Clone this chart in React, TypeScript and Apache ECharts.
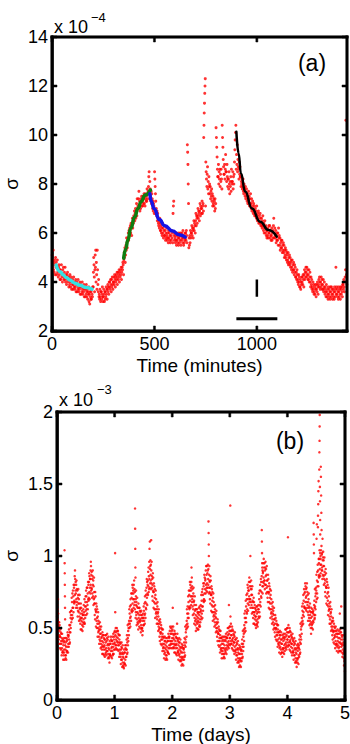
import React, { useEffect, useRef } from "react";
import * as echarts from "echarts";

const FONT = '"Liberation Sans", Arial, Helvetica, sans-serif';

// ---------- Panel (a): one day, time in minutes ----------
// σ in units of 10⁻⁴, grouped in 10-minute windows (samples in time order inside each window)
const MINUTE_WINDOW = 10;
const sigmaMinutes: number[][] = [
  [5.1, 4.6, 4.9, 5.3, 4.5, 4.8], [4.4, 4.9, 4.7, 4.3, 5.0, 4.6], [4.8, 4.3, 4.6, 4.9, 4.4, 4.5], [4.2, 4.6, 4.7, 4.3, 4.5, 4.1],
  [4.5, 4.1, 4.4, 4.7, 4.2, 4.3], [4.0, 4.5, 4.3, 4.6, 4.1, 4.2], [4.4, 4.1, 4.6, 4.0, 4.3, 4.2], [3.9, 4.3, 4.1, 4.4, 4.0, 4.2],
  [4.2, 3.8, 4.1, 3.9, 4.3, 4.0], [3.8, 4.1, 4.2, 3.7, 4.0, 3.9], [4.1, 3.7, 3.9, 4.2, 3.8, 4.0], [3.7, 4.0, 3.8, 4.1, 3.6, 3.9],
  [4.0, 3.6, 3.9, 3.7, 4.1, 3.8], [3.6, 3.9, 3.7, 4.0, 3.5, 3.8], [3.9, 3.5, 3.8, 3.6, 4.0, 3.7], [3.5, 3.8, 3.6, 3.9, 3.4, 3.7],
  [3.8, 3.4, 3.7, 3.5, 3.9, 3.6], [3.4, 3.7, 3.3, 3.6, 3.5, 3.8], [3.2, 3.5, 3.1, 3.6, 3.4, 3.3], [3.6, 3.3, 3.7, 3.5, 3.4, 3.8],
  [3.8, 4.4, 5.0, 4.7, 4.2, 3.6, 4.5], [5.1, 4.6, 5.3, 4.0, 4.8, 4.3, 3.7], [5.3, 4.5, 3.9, 3.6, 4.1, 3.4], [3.5, 3.3, 3.7, 3.4, 3.2, 3.6],
  [3.6, 3.3, 3.5, 3.8, 3.4, 3.2], [3.4, 3.7, 3.5, 3.2, 3.6, 3.3], [3.6, 3.4, 3.8, 3.5, 3.7, 3.3], [3.7, 3.9, 3.6, 3.8, 3.5, 4.0],
  [3.8, 4.0, 3.7, 4.1, 3.9, 3.6], [4.1, 3.8, 4.2, 3.9, 3.7, 4.0], [4.0, 4.2, 3.9, 4.3, 4.1, 3.8], [4.2, 4.0, 4.3, 4.1, 4.4, 3.9],
  [4.2, 4.4, 4.1, 4.3, 4.5, 4.0], [4.4, 4.2, 4.5, 4.3, 4.6, 4.1], [4.4, 4.6, 4.5, 4.8, 4.7, 4.3], [4.9, 5.2, 5.0, 5.4, 4.8, 5.1],
  [5.5, 5.3, 5.8, 5.6, 5.4, 5.7], [5.8, 6.0, 5.7, 6.1, 5.9, 6.2], [6.1, 6.3, 6.0, 6.4, 6.2, 5.9], [6.3, 6.6, 6.2, 6.5, 6.4, 6.7],
  [6.6, 6.9, 6.5, 6.8, 7.0, 6.6], [6.9, 7.2, 6.7, 7.4, 7.0, 7.1], [7.0, 7.4, 7.7, 7.1, 7.3, 6.9], [7.2, 7.0, 7.4, 7.3, 7.5, 7.1],
  [7.3, 7.1, 7.5, 7.2, 7.4, 7.6], [7.2, 7.5, 7.1, 7.6, 7.4, 7.3], [7.5, 7.3, 7.8, 7.6, 7.4, 7.7], [7.9, 8.3, 8.5, 7.6, 8.1, 7.8],
  [7.5, 7.3, 7.7, 7.2, 7.6, 7.4], [7.0, 7.3, 6.9, 7.2, 7.1, 6.8], [8.5, 8.2, 7.9, 7.6, 7.3, 6.8, 7.0], [6.7, 6.9, 6.5, 6.8, 6.6, 6.4],
  [6.3, 6.5, 6.2, 6.6, 6.4, 6.1], [6.1, 6.3, 6.0, 6.2, 5.9, 6.4], [6.0, 6.2, 5.8, 6.1, 5.9, 6.3], [5.9, 6.1, 5.7, 6.0, 5.8, 6.2],
  [5.9, 5.7, 6.0, 5.8, 5.6, 6.1], [5.8, 6.0, 5.7, 5.9, 5.6, 6.1], [5.9, 5.7, 6.1, 5.8, 6.0, 5.6], [6.8, 7.1, 7.3, 5.9, 5.7, 6.0],
  [5.8, 5.6, 5.9, 5.7, 5.5, 6.0], [5.7, 5.9, 5.6, 5.8, 5.5, 6.0], [5.8, 5.6, 5.9, 5.7, 6.0, 5.5], [5.9, 5.7, 6.0, 5.8, 5.6, 6.1],
  [5.8, 5.5, 5.9, 5.6, 5.7, 6.0], [5.8, 6.0, 5.7, 6.1, 5.9, 5.6], [9.6, 9.3, 8.8, 8.0, 7.2, 5.4, 5.8], [5.5, 5.9, 5.6, 6.1, 5.8, 6.0],
  [6.0, 6.3, 5.9, 6.2, 6.1, 5.8], [6.2, 6.5, 6.1, 6.4, 6.3, 6.0], [6.5, 6.8, 6.3, 6.7, 6.6, 6.4], [6.7, 7.0, 6.6, 6.9, 6.8, 6.5],
  [6.9, 7.2, 6.7, 7.1, 7.0, 6.8], [7.0, 7.3, 6.8, 7.1, 7.2, 6.9], [9.9, 10.4, 10.9, 11.3, 11.7, 12.0, 12.3, 7.1], [8.9, 8.5, 8.2, 7.9, 8.4, 8.7],
  [7.8, 8.1, 7.6, 8.3, 7.9, 8.0], [7.6, 7.9, 7.4, 7.7, 7.5, 7.8], [7.3, 7.6, 7.1, 7.5, 7.2, 7.4], [7.1, 7.3, 6.9, 7.4, 7.0, 7.2],
  [10.3, 9.9, 9.5, 9.1, 8.6, 8.3], [8.3, 8.8, 8.0, 8.5, 8.2, 8.6], [7.9, 8.4, 8.1, 8.6, 8.2, 7.8], [10.4, 9.9, 9.5, 9.0, 8.7, 8.4],
  [8.4, 8.8, 8.2, 8.6, 9.2, 8.5], [8.5, 8.1, 8.8, 8.3, 7.9, 8.2], [8.2, 7.8, 8.5, 8.0, 7.6, 8.1], [7.9, 8.3, 7.7, 8.6, 8.1, 8.0],
  [8.1, 8.5, 7.8, 8.3, 8.0, 8.4], [8.9, 9.4, 9.8, 10.1, 10.4, 8.6], [9.2, 8.8, 9.6, 8.5, 9.0, 8.7], [8.6, 8.2, 8.9, 8.4, 8.7, 8.3],
  [8.3, 7.9, 8.1, 8.0, 8.2, 7.8], [7.9, 8.2, 7.7, 7.6, 8.0, 7.8], [7.7, 7.5, 7.9, 7.4, 7.6, 7.8], [7.5, 7.3, 7.6, 7.2, 7.4, 7.7],
  [7.3, 7.5, 7.1, 7.4, 7.2, 7.6], [7.2, 7.0, 7.4, 6.9, 7.1, 7.3], [7.0, 6.8, 7.2, 6.9, 7.1, 6.7], [6.8, 7.0, 6.7, 6.9, 6.6, 7.1],
  [6.7, 6.5, 6.8, 6.6, 6.9, 6.4], [6.5, 6.7, 6.4, 6.8, 6.6, 6.3], [6.4, 6.6, 6.3, 6.2, 6.5, 6.7], [6.3, 6.1, 6.4, 6.0, 6.2, 6.5],
  [6.2, 6.0, 6.3, 5.9, 6.1, 5.8], [6.1, 5.9, 6.2, 5.8, 6.0, 6.3], [6.0, 6.3, 5.8, 6.1, 5.9, 5.7], [5.9, 6.2, 5.7, 6.0, 5.8, 6.1],
  [6.3, 6.6, 5.8, 6.0, 6.2, 5.9], [5.8, 6.1, 5.6, 5.9, 5.7, 6.0], [5.7, 6.0, 5.5, 6.2, 5.8, 5.9], [5.5, 5.8, 5.3, 5.6, 5.4, 5.7],
  [5.4, 5.7, 5.2, 5.5, 5.3, 5.6], [5.2, 5.5, 5.0, 5.3, 5.1, 5.4], [5.0, 5.3, 4.9, 5.2, 5.1, 4.8], [4.9, 5.2, 4.7, 5.0, 4.8, 5.1],
  [4.7, 5.0, 4.6, 4.8, 4.9, 4.5], [4.6, 4.9, 4.4, 4.7, 4.5, 4.8], [4.5, 4.3, 4.7, 4.4, 4.6, 4.2], [4.2, 4.4, 4.1, 4.5, 4.3, 4.0],
  [4.1, 3.9, 4.3, 4.0, 4.2, 3.8], [3.8, 4.1, 3.7, 4.0, 3.9, 4.2], [4.0, 4.2, 3.9, 4.3, 4.1, 3.8], [4.3, 4.5, 4.1, 4.4, 4.2, 4.6],
  [4.4, 4.2, 4.6, 4.3, 4.5, 4.1], [4.3, 4.1, 4.5, 4.0, 4.2, 4.4], [4.0, 3.8, 4.2, 3.9, 4.1, 3.7], [3.8, 3.6, 4.0, 3.7, 3.9, 3.5],
  [3.6, 3.8, 3.5, 3.9, 3.7, 3.4], [3.7, 3.9, 3.6, 4.0, 3.8, 3.5], [3.9, 4.1, 3.8, 4.2, 4.0, 3.7], [4.0, 3.8, 4.2, 3.9, 4.1, 3.7],
  [3.9, 3.7, 4.1, 3.6, 3.8, 4.0], [3.7, 3.5, 3.8, 3.6, 3.4, 3.9], [3.6, 3.4, 3.7, 3.5, 3.3, 3.8], [3.5, 3.7, 3.4, 3.6, 3.3, 3.8],
  [3.6, 3.4, 3.8, 3.5, 3.7, 3.3], [3.5, 3.7, 3.4, 3.6, 3.3, 3.8], [3.6, 3.4, 3.7, 4.6, 3.5, 3.8], [3.5, 3.7, 3.4, 3.6, 3.3, 3.8],
  [3.6, 3.4, 3.7, 3.5, 3.3, 3.8], [3.7, 3.5, 3.8, 3.6, 3.4, 3.9], [3.9, 3.7, 4.1, 3.8, 3.6, 4.0], [4.2, 4.5, 10.6, 4.0, 4.3, 3.9],
];

// Relaxation fits, [minute, σ ×10⁻⁴]
const cyanFit = [[20, 4.69], [40, 4.42], [55, 4.29], [70, 4.18], [87, 4.08], [110, 3.96], [136, 3.87], [165, 3.78], [195, 3.71]];
const greenFit = [[350, 4.97], [360, 5.35], [370, 5.7], [385, 6.2], [403, 6.65], [420, 7.0], [435, 7.28], [455, 7.55], [480, 7.75]];
const blueFit = [[478, 7.6], [484, 7.3], [498, 7.0], [524, 6.55], [550, 6.3], [588, 6.08], [620, 5.93], [650, 5.83]];
const blackFit = [[900, 10.13], [911, 9.25], [922, 8.44], [943, 7.69], [976, 7.0], [1016, 6.46], [1057, 6.12], [1097, 5.85]];

// Scale markers: 200 minutes and 0.7×10⁻⁴
const timeScaleBar = [[900, 2.5], [1100, 2.5]];
const sigmaScaleBar = [[1000, 3.4], [1000, 4.1]];

// Axis ranges and tick positions
const minuteRange = [0, 1440];
const minuteTicks = [0, 500, 1000];
const sigmaARange = [2, 14];
const sigmaATicks = [2, 4, 6, 8, 10, 12, 14];
const dayRange = [0, 5];
const dayTicks = [0, 1, 2, 3, 4, 5];
const sigmaBRange = [0, 2];
const sigmaBTicks = [0, 0.5, 1, 1.5, 2];

// ---------- Panel (b): five days ----------
// σ in units of 10⁻⁵ (hundredths of the 10⁻³ axis unit), grouped in 0.025-day windows
const DAY_WINDOW = 0.025;
const sigmaDays: number[][] = [
  // day 0
  [58, 66, 53, 63, 56, 70, 60, 54], [51, 42, 48, 39, 54, 45, 52, 44], [36, 44, 49, 39, 47, 35, 41, 46], [39, 31, 43, 36, 46, 33, 41, 34],
  [42, 33, 28, 38, 31, 40, 43, 35], [33, 41, 28, 104, 95, 88, 80, 72, 64, 56, 38, 31, 43, 35, 29], [40, 31, 37, 28, 43, 34, 41, 33], [34, 42, 47, 37, 45, 33, 39, 44],
  [45, 37, 49, 42, 52, 39, 47, 40], [61, 52, 47, 57, 50, 59, 62, 54], [62, 71, 56, 68, 59, 74, 64, 57], [76, 64, 72, 61, 80, 68, 78, 67],
  [69, 80, 86, 73, 90, 84, 68, 76, 82], [74, 64, 80, 70, 83, 66, 77, 68], [76, 64, 58, 71, 62, 73, 77, 67], [61, 70, 55, 67, 58, 73, 63, 56],
  [64, 53, 60, 49, 67, 57, 64, 55], [49, 57, 62, 52, 60, 48, 54, 59], [59, 51, 63, 56, 66, 53, 61, 54], [70, 59, 53, 65, 57, 68, 72, 62],
  [65, 76, 59, 72, 63, 78, 68, 60], [78, 66, 74, 63, 82, 70, 80, 69], [71, 82, 88, 75, 86, 70, 78, 84], [84, 74, 90, 80, 96, 93, 76, 87, 78],
  [89, 77, 71, 84, 74, 86, 90, 80], [72, 83, 66, 79, 70, 85, 75, 67], [71, 59, 67, 56, 75, 63, 72, 62], [51, 61, 67, 55, 65, 50, 57, 63],
  [53, 44, 58, 50, 61, 47, 55, 48], [53, 44, 39, 49, 42, 51, 54, 46], [41, 49, 36, 46, 39, 51, 43, 37], [44, 35, 41, 32, 47, 38, 45, 37],
  [32, 40, 45, 35, 43, 31, 37, 42], [38, 30, 42, 35, 45, 32, 40, 33], [45, 36, 31, 41, 34, 43, 46, 38], [34, 42, 29, 39, 32, 44, 36, 30],
  [38, 29, 35, 26, 41, 32, 39, 31], [31, 39, 44, 34, 42, 30, 36, 41], [37, 29, 41, 34, 44, 31, 39, 32], [46, 37, 32, 42, 35, 44, 47, 39],
  // day 1
  [40, 48, 35, 102, 61, 45, 38, 50, 42, 36], [47, 38, 44, 35, 50, 41, 48, 40], [35, 43, 48, 38, 46, 34, 40, 45], [38, 30, 42, 35, 45, 32, 40, 33],
  [39, 30, 25, 35, 28, 37, 40, 32], [28, 36, 23, 33, 26, 38, 30, 24], [32, 23, 29, 22, 35, 26, 33, 25], [25, 33, 38, 28, 36, 24, 30, 35],
  [38, 30, 42, 35, 45, 32, 40, 33], [52, 43, 38, 48, 41, 50, 53, 45], [55, 63, 50, 60, 53, 65, 57, 51], [70, 58, 66, 55, 74, 62, 71, 61],
  [63, 74, 80, 67, 78, 62, 70, 76], [74, 64, 80, 70, 83, 66, 77, 68], [75, 63, 133, 119, 105, 92, 85, 57, 70, 61, 72, 76, 66],
  [59, 68, 52, 65, 56, 71, 61, 54], [64, 53, 60, 49, 67, 57, 64, 55], [51, 59, 64, 54, 62, 50, 56, 61], [55, 47, 59, 52, 62, 49, 57, 50],
  [59, 50, 45, 55, 48, 57, 60, 52], [57, 65, 52, 62, 55, 67, 59, 53], [72, 60, 68, 57, 76, 64, 73, 63], [67, 78, 84, 71, 82, 66, 74, 80],
  [83, 73, 89, 79, 92, 75, 86, 77], [96, 84, 105, 78, 110, 91, 81, 93, 97, 87], [83, 94, 77, 111, 90, 81, 96, 86, 78],
  [84, 72, 80, 69, 88, 76, 85, 75], [64, 75, 81, 68, 79, 63, 71, 77], [67, 57, 73, 63, 76, 60, 70, 61], [67, 58, 53, 63, 56, 65, 68, 60],
  [53, 61, 48, 58, 51, 63, 55, 49], [53, 44, 50, 41, 56, 47, 54, 46], [39, 47, 52, 42, 50, 38, 44, 49], [42, 34, 46, 39, 49, 36, 44, 37],
  [43, 34, 29, 39, 32, 41, 44, 36], [33, 41, 28, 38, 31, 43, 35, 29], [40, 31, 37, 28, 43, 34, 41, 33], [33, 41, 46, 36, 44, 32, 38, 43],
  [44, 36, 48, 41, 51, 38, 46, 39], [50, 41, 36, 46, 39, 48, 51, 43],
  // day 2
  [41, 49, 36, 64, 46, 39, 51, 43, 37], [45, 36, 42, 33, 48, 39, 46, 38], [33, 41, 46, 36, 44, 32, 38, 43], [39, 31, 43, 53, 36, 46, 33, 41, 34],
  [42, 33, 28, 38, 31, 40, 43, 35], [32, 40, 27, 37, 30, 42, 34, 28], [36, 27, 33, 24, 39, 30, 37, 29], [25, 33, 38, 28, 36, 24, 30, 35],
  [36, 28, 40, 33, 43, 30, 38, 31], [51, 42, 37, 47, 40, 49, 52, 44], [55, 63, 50, 60, 53, 65, 57, 51], [72, 60, 68, 57, 76, 64, 73, 63],
  [65, 76, 82, 69, 80, 64, 72, 78], [76, 66, 82, 92, 72, 85, 68, 79, 70], [77, 65, 59, 72, 63, 74, 78, 68], [60, 69, 53, 66, 57, 72, 62, 55],
  [63, 52, 59, 48, 66, 56, 63, 54], [50, 58, 63, 53, 61, 49, 55, 60], [57, 49, 61, 54, 64, 51, 59, 52], [65, 56, 51, 61, 54, 63, 66, 58],
  [62, 73, 56, 69, 60, 75, 65, 57], [77, 65, 73, 62, 81, 69, 79, 68], [70, 81, 87, 74, 85, 69, 77, 83], [84, 74, 90, 80, 93, 76, 87, 78],
  [93, 81, 75, 88, 78, 90, 94, 84], [80, 91, 124, 116, 108, 100, 74, 87, 78, 93, 83, 75], [82, 70, 78, 67, 86, 74, 83, 73], [62, 73, 79, 66, 77, 61, 69, 75],
  [65, 55, 71, 61, 74, 58, 68, 59], [65, 56, 51, 61, 54, 63, 66, 58], [52, 60, 47, 57, 50, 62, 54, 48], [53, 44, 50, 41, 56, 47, 54, 46],
  [38, 46, 51, 41, 49, 37, 43, 48], [41, 33, 45, 38, 48, 35, 43, 36], [43, 34, 29, 39, 32, 41, 44, 36], [34, 42, 29, 39, 32, 44, 36, 30],
  [41, 32, 38, 29, 44, 35, 42, 34], [33, 41, 46, 36, 44, 32, 38, 43], [43, 35, 47, 40, 50, 37, 45, 38], [50, 41, 36, 66, 46, 39, 48, 51, 43],
  // day 3
  [43, 51, 38, 135, 58, 48, 41, 53, 45, 39], [48, 39, 45, 36, 51, 42, 49, 41], [35, 43, 48, 38, 46, 34, 40, 45], [40, 32, 44, 37, 47, 34, 42, 35],
  [42, 33, 28, 38, 31, 40, 43, 35], [31, 39, 26, 36, 29, 41, 33, 27], [35, 26, 32, 23, 38, 29, 36, 28], [24, 32, 37, 27, 35, 23, 29, 34],
  [35, 27, 39, 32, 42, 29, 37, 30], [48, 39, 34, 44, 37, 46, 49, 41], [52, 60, 47, 57, 50, 62, 54, 48], [69, 57, 65, 54, 73, 61, 70, 60],
  [63, 74, 80, 67, 78, 62, 70, 76], [76, 66, 82, 72, 85, 68, 79, 70], [82, 70, 100, 64, 77, 68, 79, 83, 73], [66, 77, 60, 73, 64, 79, 69, 61],
  [68, 57, 64, 53, 71, 61, 68, 59], [53, 61, 66, 56, 64, 52, 58, 63], [58, 50, 62, 55, 65, 52, 60, 53], [65, 56, 51, 61, 54, 63, 66, 58],
  [63, 74, 57, 70, 61, 76, 66, 58], [80, 68, 76, 65, 84, 72, 82, 71], [75, 86, 118, 110, 102, 95, 92, 79, 90, 74, 82, 88], [89, 79, 95, 85, 98, 81, 92, 83],
  [95, 83, 77, 90, 80, 92, 96, 86], [80, 91, 74, 87, 78, 93, 83, 75], [83, 71, 79, 68, 87, 75, 84, 74], [64, 75, 81, 68, 79, 63, 71, 77],
  [67, 57, 73, 63, 76, 60, 70, 61], [67, 58, 53, 63, 56, 65, 68, 60], [54, 62, 49, 59, 52, 64, 56, 50], [56, 47, 53, 44, 59, 50, 57, 49],
  [42, 50, 55, 45, 53, 41, 47, 52], [45, 37, 49, 42, 52, 39, 47, 40], [47, 38, 33, 43, 36, 45, 48, 40], [37, 45, 32, 42, 35, 47, 39, 33],
  [42, 33, 39, 30, 45, 36, 43, 35], [33, 41, 46, 36, 44, 32, 38, 43], [42, 34, 46, 39, 49, 36, 44, 37], [49, 40, 35, 45, 38, 47, 50, 42],
  // day 4
  [42, 50, 37, 113, 47, 40, 52, 44, 38], [47, 38, 44, 35, 50, 41, 48, 40], [34, 42, 47, 37, 45, 33, 39, 44], [39, 31, 43, 36, 46, 33, 41, 34],
  [42, 33, 28, 38, 31, 40, 43, 35], [31, 39, 26, 36, 29, 41, 33, 27], [35, 26, 32, 23, 38, 29, 36, 28], [26, 34, 39, 29, 37, 25, 31, 36],
  [38, 30, 42, 35, 45, 32, 40, 33], [53, 44, 39, 49, 42, 51, 54, 46], [57, 65, 52, 62, 55, 67, 59, 53], [73, 61, 69, 58, 77, 65, 74, 64],
  [64, 75, 81, 68, 79, 63, 71, 77], [72, 62, 78, 68, 81, 64, 75, 66], [73, 61, 55, 68, 59, 70, 74, 64], [57, 65, 52, 62, 55, 67, 59, 53],
  [61, 50, 57, 46, 64, 54, 61, 52], [50, 58, 63, 53, 61, 49, 55, 60], [62, 54, 123, 115, 108, 102, 66, 59, 69, 56, 64, 57], [77, 65, 59, 72, 63, 74, 78, 68],
  [76, 87, 112, 70, 122, 83, 74, 89, 79, 71], [94, 82, 120, 128, 90, 136, 145, 79, 152, 98, 86, 95, 85],
  [87, 98, 160, 172, 104, 180, 190, 198, 91, 148, 138, 102, 125, 115, 86, 94, 100],
  [98, 88, 162, 155, 104, 142, 94, 130, 107, 118, 90, 101, 92], [102, 90, 84, 112, 97, 87, 99, 103, 93],
  [86, 97, 80, 93, 84, 99, 89, 81], [87, 75, 83, 72, 91, 79, 88, 78], [67, 78, 84, 71, 82, 66, 74, 80], [69, 59, 75, 65, 78, 62, 72, 63],
  [67, 58, 53, 63, 56, 65, 68, 60], [53, 61, 48, 58, 51, 63, 55, 49], [54, 45, 51, 42, 57, 48, 55, 47], [40, 48, 53, 43, 51, 39, 45, 50],
  [44, 36, 48, 41, 51, 38, 46, 39], [48, 39, 34, 44, 37, 46, 49, 41], [38, 46, 33, 43, 36, 48, 40, 34], [46, 37, 43, 60, 34, 49, 40, 47, 39],
  [34, 42, 47, 65, 37, 45, 33, 39, 44], [38, 30, 42, 35, 45, 32, 40, 33], [38, 29, 24, 34, 27, 36, 39, 20],
];

// Spread the samples of each window evenly across its time span
function toPoints(rows: number[][], width: number, scale: number): number[][] {
  const pts: number[][] = [];
  rows.forEach((row, i) => {
    row.forEach((v, j) => {
      pts.push([i * width + ((j + 0.5) * width) / row.length, v * scale]);
    });
  });
  return pts;
}

const labelStyle = { color: "#000", fontSize: 18, fontFamily: FONT };
const nameStyle = { color: "#000", fontSize: 19, fontFamily: FONT };
const TICK_PX = 5;
const TICK_W = 2;
const EDGE_PX = 2.5;

const GRID_A = { left: 52, top: 37, width: 295, height: 294 };
const GRID_B = { left: 57, top: 412, width: 288, height: 288 };

function xAxis(grid: number, range: number[], interval: number, name: string, gap: number, fmt?: (v: number) => string) {
  return {
    gridIndex: grid, type: "value", min: range[0], max: range[1], interval, position: "bottom",
    name, nameLocation: "middle", nameGap: gap, nameTextStyle: nameStyle, nameMoveOverlap: false, splitLine: { show: false },
    axisLine: { show: true, onZero: false, lineStyle: { color: "#000", width: EDGE_PX } },
    axisTick: { show: false }, axisLabel: { ...labelStyle, margin: 4, formatter: fmt },
  };
}

function yAxis(grid: number, range: number[], interval: number, gap: number) {
  return {
    gridIndex: grid, type: "value", min: range[0], max: range[1], interval, position: "left",
    name: "σ", nameLocation: "middle", nameGap: gap, nameRotate: 90, nameTextStyle: nameStyle, nameMoveOverlap: false,
    splitLine: { show: false }, axisLine: { show: true, onZero: false, lineStyle: { color: "#000", width: EDGE_PX } },
    axisTick: { show: false }, axisLabel: { ...labelStyle, margin: 4 },
  };
}

function fitLine(data: number[][], color: string, width: number) {
  return {
    type: "line", xAxisIndex: 0, yAxisIndex: 0, data, smooth: true, smoothMonotone: "x",
    showSymbol: false, symbol: "none", lineStyle: { color, width, cap: "round" }, z: 5, silent: true,
  };
}

const blackRect = (x: number, y: number, w: number, h: number) => ({
  type: "rect", silent: true, z: 100, shape: { x, y, width: w, height: h }, style: { fill: "#000", stroke: "#000", lineWidth: 0.5 },
});

export default function App() {
  const ref = useRef<HTMLDivElement>(null);

  useEffect(() => {
    if (!ref.current) return;
    const chart = echarts.init(ref.current, undefined, { renderer: "svg" });

    const pointsA = toPoints(sigmaMinutes, MINUTE_WINDOW, 1);
    const pointsB = toPoints(sigmaDays, DAY_WINDOW, 0.01);

    const textEl = (x: number, y: number, text: string, size: number, align = "left") => ({
      type: "text", x, y, silent: true, z: 100,
      style: { text, fill: "#000", font: `${size}px ${FONT}`, textAlign: align, textVerticalAlign: "middle" },
    });

    const gridBase = { show: false, containLabel: false, outerBoundsMode: "none" };

    chart.setOption({
      animation: false,
      backgroundColor: "#fff",
      textStyle: { fontFamily: FONT },
      grid: [
        { ...gridBase, ...GRID_A },
        { ...gridBase, ...GRID_B },
      ],
      xAxis: [
        xAxis(0, minuteRange, 500, "Time (minutes)", 25, (v: number) => (minuteTicks.includes(v) ? String(v) : "")),
        xAxis(1, dayRange, 1, "Time (days)", 25),
      ],
      yAxis: [yAxis(0, sigmaARange, 2, 31), yAxis(1, sigmaBRange, 0.5, 36)],
      series: [
        {
          type: "scatter", xAxisIndex: 0, yAxisIndex: 0, data: pointsA, symbol: "circle", symbolSize: 3,
          itemStyle: { color: "#ff0000" }, progressive: 0, silent: true, z: 2,
        },
        fitLine(cyanFit, "#33e3e3", 3.5),
        fitLine(greenFit, "#0f7d0f", 3.5),
        fitLine(blueFit, "#1414e6", 3.5),
        fitLine(blackFit, "#000000", 2.5),
        {
          type: "line", xAxisIndex: 0, yAxisIndex: 0, data: timeScaleBar, showSymbol: false, symbol: "none",
          lineStyle: { color: "#000", width: 3 }, z: 5, silent: true,
        },
        {
          type: "line", xAxisIndex: 0, yAxisIndex: 0, data: sigmaScaleBar, showSymbol: false, symbol: "none",
          lineStyle: { color: "#000", width: 2.5 }, z: 5, silent: true,
        },
        {
          type: "scatter", xAxisIndex: 1, yAxisIndex: 1, data: pointsB, symbol: "circle", symbolSize: 2.5,
          itemStyle: { color: "#ff0000" }, progressive: 0, silent: true, z: 2,
        },
      ],
    });

    // Box frame and inward ticks, positioned through each panel's axis scales
    const frame = (grid: number, xr: number[], yr: number[], xt: number[], yt: number[]) => {
      const px = (x: number, y: number) => chart.convertToPixel({ gridIndex: grid }, [x, y]) as number[];
      const [x0, y0] = px(xr[0], yr[0]);
      const [x1, y1] = px(xr[1], yr[1]);
      const e = EDGE_PX / 2;
      const els: any[] = [
        blackRect(x0 - e, y1 - e, x1 - x0 + EDGE_PX, EDGE_PX),
        blackRect(x0 - e, y0 - e, x1 - x0 + EDGE_PX, EDGE_PX),
        blackRect(x0 - e, y1 - e, EDGE_PX, y0 - y1 + EDGE_PX),
        blackRect(x1 - e, y1 - e, EDGE_PX, y0 - y1 + EDGE_PX),
      ];
      xt.forEach((t) => {
        const [tx] = px(t, yr[0]);
        els.push(blackRect(tx - TICK_W / 2, y0 - TICK_PX, TICK_W, TICK_PX));
        els.push(blackRect(tx - TICK_W / 2, y1, TICK_W, TICK_PX));
      });
      yt.forEach((v) => {
        const [, ty] = px(xr[0], v);
        els.push(blackRect(x0, ty - TICK_W / 2, TICK_PX, TICK_W));
        els.push(blackRect(x1 - TICK_PX, ty - TICK_W / 2, TICK_PX, TICK_W));
      });
      return els;
    };

    chart.setOption({
      graphic: [
        textEl(54, 27, "x 10", 18),
        textEl(91, 17, "−4", 13),
        textEl(312, 63, "(a)", 23, "center"),
        textEl(59, 400, "x 10", 18),
        textEl(97, 389, "−3", 13),
        textEl(290, 441, "(b)", 23, "center"),
        ...frame(0, minuteRange, sigmaARange, minuteTicks, sigmaATicks),
        ...frame(1, dayRange, sigmaBRange, dayTicks, sigmaBTicks),
      ],
    });

    return () => chart.dispose();
  }, []);

  return (
    <div
      ref={ref}
      style={{ position: "absolute", left: 0, top: 0, width: 350, height: 744, background: "#fff" }}
    />
  );
}
